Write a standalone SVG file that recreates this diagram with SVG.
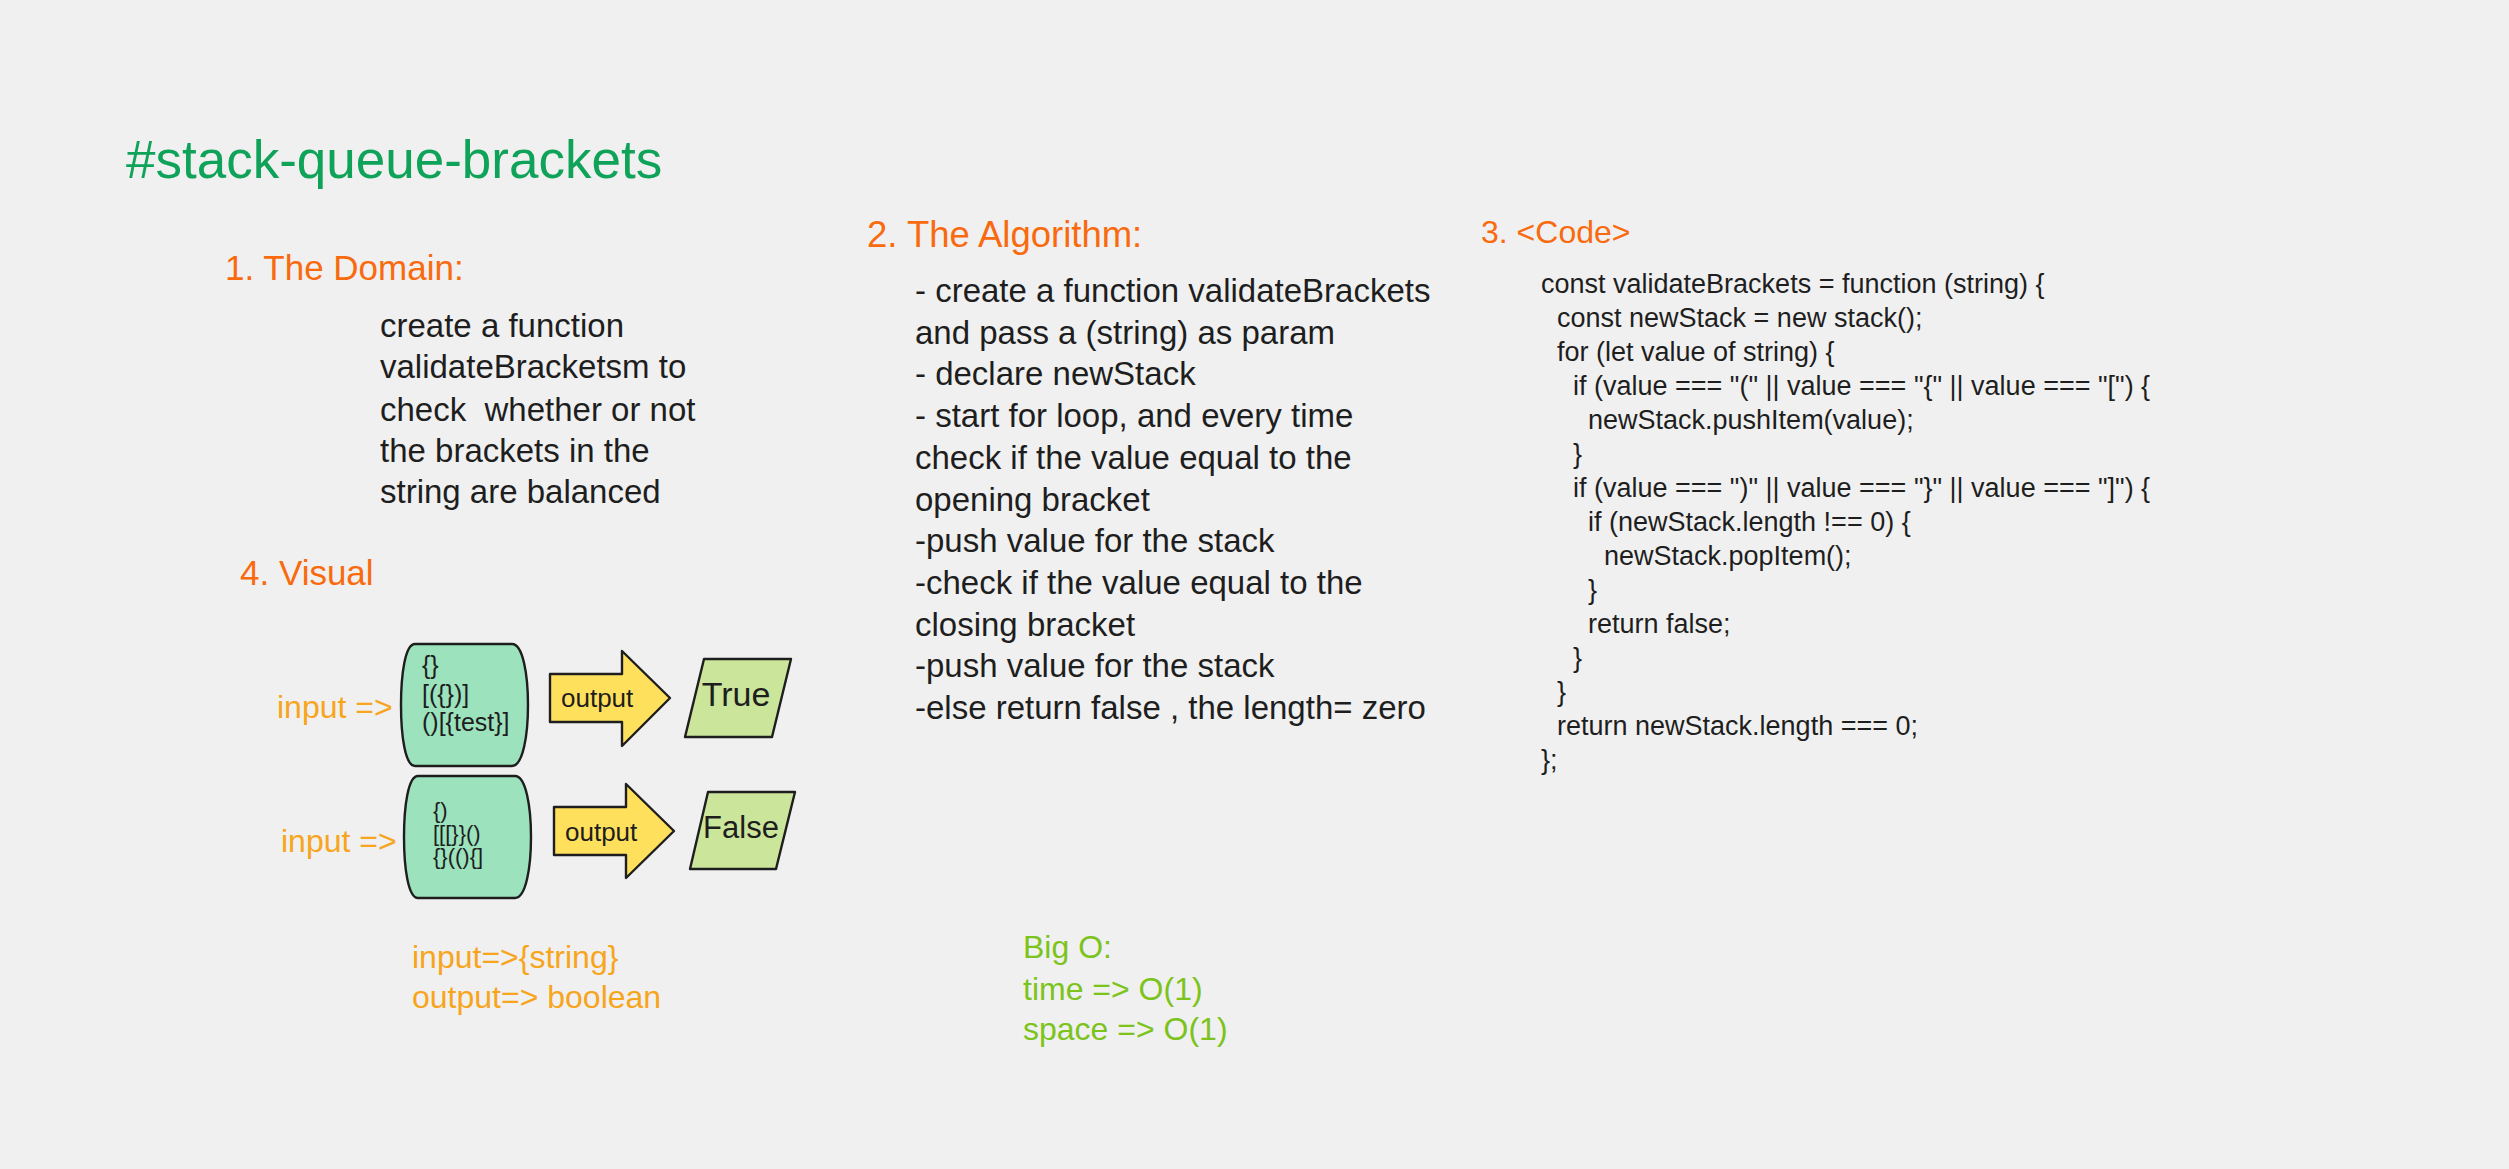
<svg xmlns="http://www.w3.org/2000/svg" width="2509" height="1169" viewBox="0 0 2509 1169">
<style>
text{font-family:"Liberation Sans","Noto Sans",Arial,sans-serif;}
.title{font-size:53px;fill:#0fa35a;}
.head{font-size:35px;fill:#f96a0f;}
.body{font-size:33px;fill:#1e1e1e;}
.code{font-size:27px;fill:#1e1e1e;}
.inp{font-size:32px;fill:#f7a51c;}
.big{font-size:32px;fill:#7cc31b;}
.shape{stroke:#1e1e1e;stroke-width:2.4;stroke-linejoin:round;}
.stack{fill:#9be2bd;}
.arrow{fill:#ffe05c;}
.para{fill:#cbe59b;}
.small{fill:#1e1e1e;}
</style>
<rect x="0" y="0" width="2509" height="1169" fill="#f0f0f0"/>

<g id="title"><text class="title" x="126" y="178">#stack-queue-brackets</text></g>

<g id="domain">
<text class="head" x="225" y="280">1. The Domain:</text>
<text class="body" x="380" y="337">create a function</text>
<text class="body" x="380" y="378">validateBracketsm to</text>
<text class="body" x="380" y="421">check&#160; whether or not</text>
<text class="body" x="380" y="462">the brackets in the</text>
<text class="body" x="380" y="503">string are balanced</text>
</g>

<g id="algorithm">
<text class="head" x="867" y="247" style="font-size:36.5px">2. The Algorithm:</text>
<text class="body" x="915" y="302">- create a function validateBrackets</text>
<text class="body" x="915" y="344">and pass a (string) as param</text>
<text class="body" x="915" y="385">- declare newStack</text>
<text class="body" x="915" y="427">- start for loop, and every time</text>
<text class="body" x="915" y="469">check if the value equal to the</text>
<text class="body" x="915" y="511">opening bracket</text>
<text class="body" x="915" y="552">-push value for the stack</text>
<text class="body" x="915" y="594">-check if the value equal to the</text>
<text class="body" x="915" y="636">closing bracket</text>
<text class="body" x="915" y="677">-push value for the stack</text>
<text class="body" x="915" y="719">-else return false , the length= zero</text>
</g>

<g id="code">
<text class="head" x="1481" y="243" style="font-size:32px">3. &lt;Code&gt;</text>
<text class="code" x="1541" y="293">const validateBrackets = function (string) {</text>
<text class="code" x="1557" y="327">const newStack = new stack();</text>
<text class="code" x="1557" y="361">for (let value of string) {</text>
<text class="code" x="1573" y="395">if (value === "(" || value === "{" || value === "[") {</text>
<text class="code" x="1588" y="429">newStack.pushItem(value);</text>
<text class="code" x="1573" y="463">}</text>
<text class="code" x="1573" y="497">if (value === ")" || value === "}" || value === "]") {</text>
<text class="code" x="1588" y="531">if (newStack.length !== 0) {</text>
<text class="code" x="1604" y="565">newStack.popItem();</text>
<text class="code" x="1588" y="599">}</text>
<text class="code" x="1588" y="633">return false;</text>
<text class="code" x="1573" y="667">}</text>
<text class="code" x="1557" y="701">}</text>
<text class="code" x="1557" y="735">return newStack.length === 0;</text>
<text class="code" x="1541" y="769">};</text>
</g>

<g id="visual-heading"><text class="head" x="240" y="585">4. Visual</text></g>

<g id="input-label-1"><text class="inp" x="277" y="718">input =&gt;</text></g>
<g id="input-label-2"><text class="inp" x="281" y="852">input =&gt;</text></g>

<g id="stack-true">
<path class="shape stack" d="M415,644 H512 C523,644 528,675 528,705 C528,735 523,766 512,766 H415 C405,766 401,735 401,705 C401,675 405,644 415,644 Z"/>
<text class="small" x="422" y="674" style="font-size:25px">{}</text>
<text class="small" x="422" y="703" style="font-size:25px">[({})]</text>
<text class="small" x="422" y="731" style="font-size:25px">()[{test}]</text>
</g>

<g id="stack-false">
<path class="shape stack" d="M418,776 H515 C526,776 531,807 531,837 C531,867 526,898 515,898 H418 C408,898 404,867 404,837 C404,807 408,776 418,776 Z"/>
<text class="small" x="433" y="818" style="font-size:22px">{)</text>
<text class="small" x="433" y="841" style="font-size:22px">[[[}}()</text>
<text class="small" x="433" y="864" style="font-size:22px">{}((){]</text>
</g>

<g id="arrow-true">
<path class="shape arrow" d="M550,674 H622 V651 L670,698 L622,746 V722 H550 Z"/>
<text class="small" x="561" y="707" style="font-size:26px">output</text>
</g>

<g id="arrow-false">
<path class="shape arrow" d="M554,807 H626 V784 L674,831 L626,878 V855 H554 Z"/>
<text class="small" x="565" y="841" style="font-size:26px">output</text>
</g>

<g id="result-true">
<path class="shape para" d="M704,659 L791,659 L772,737 L685,737 Z"/>
<text class="small" x="736" y="706" text-anchor="middle" style="font-size:34px">True</text>
</g>

<g id="result-false">
<path class="shape para" d="M708,792 L795,792 L776,869 L690,869 Z"/>
<text class="small" x="741" y="838" text-anchor="middle" style="font-size:31px">False</text>
</g>

<g id="connectors"></g>

<g id="io-note">
<text class="inp" x="412" y="968">input=&gt;{string}</text>
<text class="inp" x="412" y="1008">output=&gt; boolean</text>
</g>

<g id="big-o">
<text class="big" x="1023" y="958">Big O:</text>
<text class="big" x="1023" y="1000">time =&gt; O(1)</text>
<text class="big" x="1023" y="1040">space =&gt; O(1)</text>
</g>
</svg>
